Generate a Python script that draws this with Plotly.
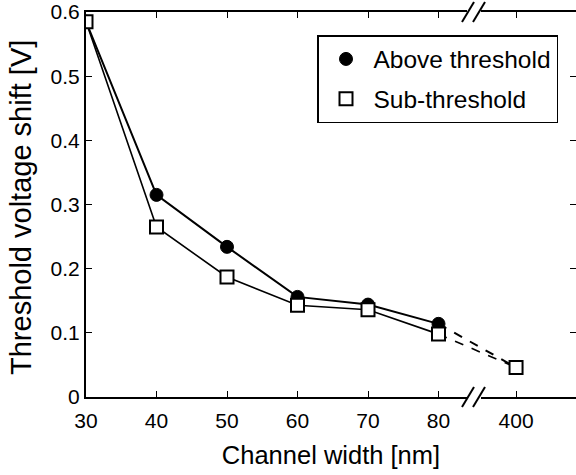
import plotly.graph_objects as go

# ---- data ----
# x positions on a broken axis: 400 nm is drawn at the position "91" after the break
x_pos = [30, 40, 50, 60, 70, 80, 91]
x_labels = ["30", "40", "50", "60", "70", "80", "400"]
above = [0.585, 0.315, 0.234, 0.156, 0.144, 0.114, 0.046]
sub = [0.585, 0.265, 0.187, 0.143, 0.136, 0.098, 0.046]
y_ticks = [0, 0.1, 0.2, 0.3, 0.4, 0.5, 0.6]
y_labels = ["0", "0.1", "0.2", "0.3", "0.4", "0.5", "0.6"]

FONT = "Liberation Sans, Arial, sans-serif"
W, H = 576, 475
L, R, T, B = 86, 0, 12, 78
pw, ph = W - L - R, H - T - B

fig = go.Figure()

def add_series(y, name, lw, marker, group):
    fig.add_trace(go.Scatter(x=x_pos[:6], y=y[:6], mode="lines",
                             line=dict(color="black", width=lw),
                             showlegend=False, hoverinfo="skip", legendgroup=group))
    fig.add_trace(go.Scatter(x=x_pos[5:], y=y[5:], mode="lines",
                             line=dict(color="black", width=lw, dash="dash"),
                             showlegend=False, hoverinfo="skip", legendgroup=group))
    fig.add_trace(go.Scatter(x=x_pos, y=y, mode="markers", name=name,
                             marker=marker, legendgroup=group))

add_series(above, "Above threshold", 2,
           dict(symbol="circle", size=13, color="black",
                line=dict(color="black", width=1)), "a")
add_series(sub, "Sub-threshold", 1.6,
           dict(symbol="square", size=13, color="white",
                line=dict(color="black", width=2)), "b")

# axis break marks (decoration), in paper coordinates
def px2paper_x(px):
    return (px - L) / pw

def px2paper_y(py):
    return (H - B - py) / ph

shapes = []
for axis_y in (H - B, T):
    shapes.append(dict(type="line", xref="paper", yref="paper", layer="above",
                       x0=px2paper_x(467), x1=px2paper_x(481),
                       y0=px2paper_y(axis_y), y1=px2paper_y(axis_y),
                       line=dict(color="white", width=5)))
    for x0 in (462, 473):
        shapes.append(dict(type="line", xref="paper", yref="paper", layer="above",
                           x0=px2paper_x(x0), x1=px2paper_x(x0 + 12),
                           y0=px2paper_y(axis_y + 10), y1=px2paper_y(axis_y - 10),
                           line=dict(color="black", width=2)))

fig.update_layout(
    width=W, height=H,
    margin=dict(l=L, r=R, t=T, b=B),
    paper_bgcolor="white", plot_bgcolor="white",
    font=dict(family=FONT, color="black", size=21),
    showlegend=True,
    legend=dict(x=px2paper_x(317), y=px2paper_y(35), xanchor="left", yanchor="top",
                bgcolor="white", bordercolor="black", borderwidth=1.5,
                traceorder="grouped", tracegroupgap=5, itemwidth=45,
                font=dict(family=FONT, size=24.5, color="black")),
    xaxis=dict(range=[30, 30 + pw / 7.05], tickvals=x_pos, ticktext=x_labels,
               showline=True, linecolor="black", linewidth=2, mirror="ticks",
               ticks="inside", ticklen=6, tickwidth=1, tickcolor="black",
               showgrid=False, zeroline=False, ticklabelstandoff=4,
               title=dict(text="Channel width [nm]", font=dict(size=25.5), standoff=15)),
    yaxis=dict(range=[0, 0.6], tickvals=y_ticks, ticktext=y_labels,
               showline=True, linecolor="black", linewidth=2,
               ticks="inside", ticklen=6, tickwidth=1, tickcolor="black",
               showgrid=False, zeroline=False),
    yaxis2=dict(range=[0, 0.6], tickvals=y_ticks, overlaying="y", side="right",
                showline=False, ticks="inside", ticklen=6, tickwidth=1,
                tickcolor="black", showticklabels=False, showgrid=False,
                zeroline=False),
    shapes=shapes,
    annotations=[dict(text="Threshold voltage shift [V]", textangle=-90,
                      xref="paper", yref="paper",
                      x=px2paper_x(21), y=px2paper_y(208),
                      xanchor="center", yanchor="middle", showarrow=False,
                      font=dict(family=FONT, size=29, color="black"))],
)
fig.add_trace(go.Scatter(x=[None], y=[None], yaxis="y2", showlegend=False,
                         hoverinfo="skip"))

fig.write_html("out.html")
